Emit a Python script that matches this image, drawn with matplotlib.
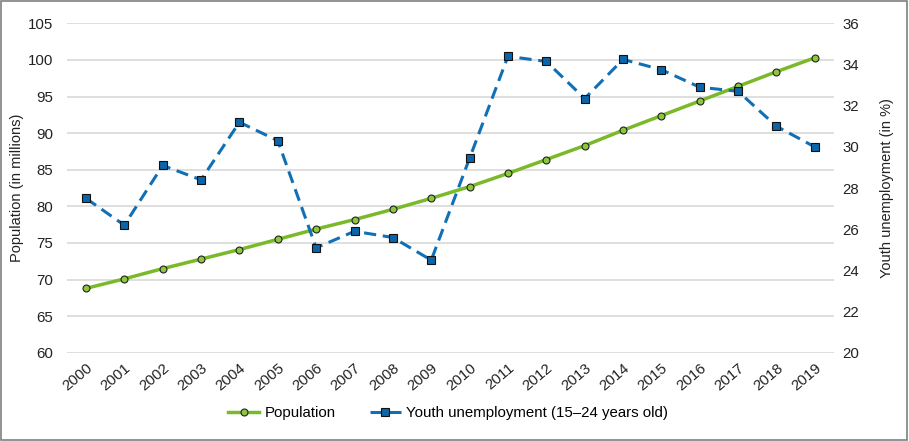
import matplotlib
matplotlib.use("Agg")
import matplotlib.pyplot as plt
from matplotlib.patches import Rectangle

plt.rcParams['font.family'] = ['Liberation Sans', 'DejaVu Sans']

years = [str(y) for y in range(2000, 2020)]
population = [68.8, 70.1, 71.5, 72.8, 74.1, 75.5, 76.9, 78.2, 79.6, 81.1,
              82.7, 84.5, 86.4, 88.3, 90.4, 92.4, 94.4, 96.4, 98.4, 100.3]
youth_unemp = [27.5, 26.2, 29.1, 28.4, 31.2, 30.3, 25.1, 25.9, 25.6, 24.5,
               29.45, 34.4, 34.15, 32.35, 34.25, 33.75, 32.9, 32.7, 31.0, 30.0]
left_ticks = [60, 65, 70, 75, 80, 85, 90, 95, 100, 105]
right_ticks = [20, 22, 24, 26, 28, 30, 32, 34, 36]

green = '#7AB929'
green_face = '#8DC63F'
blue = '#1170B5'
blue_face = '#0B65A8'

fig = plt.figure(figsize=(9.09, 4.41), dpi=100)
fig.patches.append(Rectangle((0.001, 0.002), 0.997, 0.995, transform=fig.transFigure,
                             fill=False, edgecolor='#7F7F7F', linewidth=1.2))
ax = fig.add_axes([0.0735, 0.2, 0.844, 0.747])
ax2 = ax.twinx()

x = list(range(len(years)))
l1, = ax.plot(x, population, color=green, lw=2.5, marker='o', markersize=5,
              markerfacecolor=green_face, markeredgecolor='#222222', markeredgewidth=0.8,
              label='Population', zorder=3)
l2, = ax2.plot(x, youth_unemp, color=blue, lw=2.2, linestyle=(0, (4, 2.2)), marker='s',
               markersize=5.4, markerfacecolor=blue_face, markeredgecolor='#111111',
               markeredgewidth=0.8, label='Youth unemployment (15\u201324 years old)', zorder=3)

ax.set_xlim(-0.5, len(years) - 0.5)
ax.set_ylim(60, 105)
ax.set_yticks(left_ticks)
ax2.set_ylim(20, 36)
ax2.set_yticks(right_ticks)
ax.set_xticks(x)
ax.set_xticklabels(years, rotation=40, ha='right', rotation_mode='anchor')

for a in (ax, ax2):
    for s in a.spines.values():
        s.set_visible(False)
    a.tick_params(length=0, labelsize=10.8, colors='#222222')
ax.tick_params(axis='y', pad=10)
ax.tick_params(axis='x', pad=6)
ax2.tick_params(axis='y', pad=6)
ax.grid(axis='y', color='#D9D9D9', lw=1.2)
ax.set_axisbelow(True)

fig.text(17 / 909, 0.2 + 0.747 / 2, 'Population (in millions)', rotation=90,
         ha='center', va='center', fontsize=10.5, color='#222222')
ax2.set_ylabel('Youth unemployment (in %)', fontsize=10.5, color='#222222', labelpad=15,
               rotation=90)

fig.legend(handles=[l1, l2], loc='center', bbox_to_anchor=(0.493, 0.063), ncol=2,
           frameon=False, fontsize=10.8, handlelength=2.05, columnspacing=2.3,
           handletextpad=0.35)

fig.savefig('out.png', dpi=100)
